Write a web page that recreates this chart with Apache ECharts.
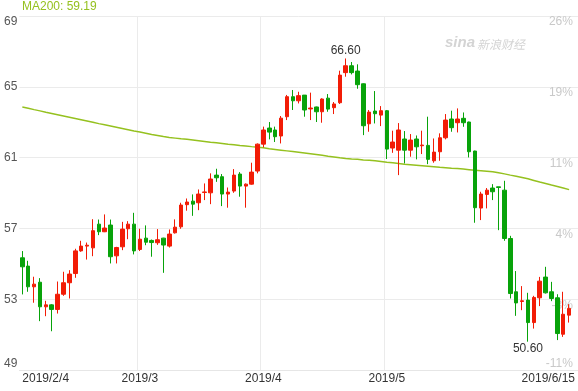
<!DOCTYPE html>
<html>
<head>
<meta charset="utf-8">
<script src="https://cdn.jsdelivr.net/npm/echarts@6/dist/echarts.min.js"></script>
<style>
  html, body { margin: 0; padding: 0; background: #fff; }
  #chart { width: 578px; height: 391px; }
</style>
</head>
<body>
<div id="chart"></div>
<script>
// trading days per month (the first one shown is 2019/1/31)
const tradingDays = [
  ['2019/1', [31]],
  ['2019/2', [1, 4, 5, 6, 7, 8, 11, 12, 13, 14, 15, 19, 20, 21, 22, 25, 26, 27, 28]],
  ['2019/3', [1, 4, 5, 6, 7, 8, 11, 12, 13, 14, 15, 18, 19, 20, 21, 22, 25, 26, 27, 28, 29]],
  ['2019/4', [1, 2, 3, 4, 5, 8, 9, 10, 11, 12, 15, 16, 17, 18, 22, 23, 24, 25, 26, 29, 30]],
  ['2019/5', [1, 2, 3, 6, 7, 8, 9, 10, 13, 14, 15, 16, 17, 20, 21, 22, 23, 24, 28, 29, 30, 31]],
  ['2019/6', [3, 4, 5, 6, 7, 10, 11, 12, 13, 14]],
]
const axisEnd = '2019/6/15'

const opens = [
  55.34, 54.87, 53.70, 53.96, 52.57, 52.68, 52.42, 53.28, 53.93, 54.45,
  55.73, 56.00, 55.90, 57.24, 56.81, 57.19, 55.45, 55.96, 56.98, 57.24,
  55.81, 56.45, 56.32, 56.19, 56.45, 56.00, 56.75, 57.09, 58.34, 58.54,
  58.45, 59.03, 59.01, 60.01, 59.92, 58.94, 59.11, 60.07, 59.39, 59.50,
  60.24, 61.76, 62.67, 62.56, 62.22, 63.31, 64.44, 64.21, 64.53, 63.75,
  63.86, 63.59, 64.36, 63.82, 64.10, 65.80, 66.19, 65.89, 65.17, 62.91,
  63.63, 63.40, 63.65, 61.54, 61.42, 62.05, 61.42, 62.05, 61.67, 61.69,
  60.82, 61.33, 62.12, 63.18, 62.97, 63.22, 63.01, 61.37, 58.15, 58.92,
  59.28, 59.35, 59.16, 56.43, 53.42, 52.87, 52.95, 51.68, 53.08, 54.25,
  53.42, 53.08, 51.02, 52.10,
]
const closes = [
  54.83, 53.70, 53.85, 52.57, 52.68, 52.42, 53.28, 53.93, 54.42, 55.73,
  56.00, 56.05, 56.87, 56.81, 57.02, 55.40, 55.92, 56.96, 57.24, 55.73,
  56.39, 56.22, 56.20, 56.36, 56.06, 56.68, 57.07, 58.32, 58.49, 58.37,
  58.94, 59.06, 59.79, 59.86, 58.94, 59.05, 60.01, 59.39, 59.50, 60.18,
  61.76, 62.56, 62.44, 62.18, 63.23, 64.44, 64.21, 64.50, 63.69, 63.80,
  63.59, 64.31, 63.74, 64.03, 65.66, 66.19, 65.80, 65.12, 62.80, 63.57,
  63.48, 63.65, 61.48, 61.88, 62.56, 61.42, 61.99, 61.61, 61.71, 60.90,
  61.31, 62.12, 63.12, 62.69, 63.18, 62.97, 61.33, 58.17, 58.94, 59.16,
  59.07, 59.31, 56.43, 53.32, 52.79, 52.91, 51.68, 53.10, 54.02, 53.36,
  53.04, 51.06, 52.15, 52.48,
]
const lows = [
  53.27, 53.42, 52.80, 51.76, 52.04, 51.19, 52.19, 53.19, 53.04, 54.21,
  55.68, 55.24, 55.43, 56.62, 56.79, 55.02, 55.02, 55.77, 56.39, 55.53,
  55.72, 56.05, 55.40, 56.07, 54.49, 55.92, 56.71, 56.98, 58.00, 57.71,
  58.03, 58.60, 58.37, 59.63, 58.26, 58.17, 59.01, 58.79, 58.17, 59.47,
  60.11, 61.58, 62.03, 61.88, 61.80, 63.12, 63.69, 64.06, 63.31, 63.12,
  63.01, 62.97, 63.59, 63.46, 64.03, 65.57, 65.70, 64.89, 62.27, 62.46,
  62.93, 62.78, 60.92, 61.27, 60.01, 60.67, 61.05, 60.90, 61.20, 60.63,
  60.71, 60.82, 62.03, 62.46, 62.42, 62.74, 61.01, 57.32, 57.47, 58.13,
  58.60, 56.90, 56.30, 53.04, 52.06, 52.38, 50.60, 51.34, 52.61, 53.32,
  52.89, 50.69, 50.87, 51.68,
]
const highs = [
  55.72, 55.17, 54.27, 54.19, 52.91, 52.72, 54.00, 54.55, 54.64, 55.85,
  56.30, 56.20, 57.52, 57.50, 57.79, 57.50, 55.96, 57.37, 57.41, 57.88,
  56.98, 57.17, 56.37, 56.96, 56.47, 56.94, 57.51, 58.45, 58.69, 58.92,
  59.20, 59.54, 60.11, 60.37, 60.07, 59.31, 60.35, 60.18, 59.54, 60.71,
  61.80, 62.75, 63.01, 62.75, 63.35, 64.54, 64.82, 64.72, 64.53, 64.67,
  63.88, 64.35, 64.59, 64.14, 65.91, 66.60, 66.40, 66.27, 65.19, 63.69,
  64.76, 63.91, 63.69, 62.52, 62.95, 62.50, 62.33, 62.25, 62.52, 63.31,
  62.08, 62.37, 63.46, 63.65, 63.78, 63.55, 63.03, 61.39, 59.07, 59.28,
  59.50, 59.35, 59.69, 56.58, 54.59, 53.74, 53.36, 53.19, 54.26, 54.83,
  53.98, 53.28, 53.42, 52.72,
]
const ma200 = [
  63.86, 63.79, 63.71, 63.64, 63.56, 63.49, 63.42, 63.35, 63.28, 63.21,
  63.14, 63.07, 63.00, 62.92, 62.85, 62.78, 62.71, 62.64, 62.57, 62.50,
  62.44, 62.38, 62.31, 62.25, 62.19, 62.14, 62.10, 62.06, 62.03, 61.99,
  61.95, 61.91, 61.87, 61.84, 61.80, 61.76, 61.73, 61.69, 61.66, 61.62,
  61.59, 61.55, 61.50, 61.46, 61.42, 61.38, 61.34, 61.30, 61.26, 61.22,
  61.18, 61.13, 61.08, 61.04, 60.99, 60.95, 60.92, 60.90, 60.87, 60.85,
  60.82, 60.78, 60.74, 60.71, 60.67, 60.63, 60.60, 60.57, 60.54, 60.51,
  60.48, 60.45, 60.43, 60.40, 60.38, 60.35, 60.32, 60.29, 60.26, 60.23,
  60.20, 60.14, 60.08, 60.01, 59.95, 59.88, 59.80, 59.71, 59.62, 59.54,
  59.45, 59.37, 59.28, 59.19,
]

const priceTicks = [49, 53, 57, 61, 65, 69]
const pctLabels = ['-11%', '-3%', '4%', '11%', '19%', '26%']
const xTickDates = ['2019/1/31', '2019/3/1', '2019/4/1', '2019/5/1', '2019/6/15']
const xTickLabels = ['2019/2/4', '2019/3', '2019/4', '2019/5', '2019/6/15']
const maTitle = 'MA200: 59.19'

const RED = '#f21c06'
const GREEN = '#08a30a'
const MA_COLOR = '#95c11f'
const FONT = '"Liberation Sans", Arial, sans-serif'

const dates = []
tradingDays.forEach(([m, days]) => days.forEach((d) => dates.push(m + '/' + d)))
const categories = dates.concat([axisEnd])
const candles = opens.map((o, i) => [o, closes[i], lows[i], highs[i]])
const monthStarts = xTickDates.slice(1, 4)

const chart = echarts.init(document.getElementById('chart'), null, { renderer: 'canvas' })
chart.setOption({
  animation: false,
  backgroundColor: '#fff',
  textStyle: { fontFamily: FONT },
  grid: { left: 19.4, right: 0, top: 16, bottom: 21 },
  xAxis: {
    type: 'category',
    data: categories,
    boundaryGap: true,
    axisLine: { lineStyle: { color: '#e6e6e6' } },
    axisTick: { show: false },
    splitLine: {
      show: true,
      interval: (i, v) => monthStarts.includes(v),
      lineStyle: { color: '#ebebeb' },
    },
    axisLabel: {
      interval: (i, v) => xTickDates.includes(v),
      formatter: (v) => xTickLabels[xTickDates.indexOf(v)],
      color: '#333',
      fontSize: 12,
      fontFamily: FONT,
      margin: 3,
      alignMinLabel: 'left',
      alignMaxLabel: 'right',
      showMinLabel: true,
      showMaxLabel: true,
    },
  },
  yAxis: [
    {
      type: 'value',
      min: priceTicks[0],
      max: priceTicks[priceTicks.length - 1],
      interval: 4,
      position: 'left',
      axisLine: { show: false },
      axisTick: { show: false },
      splitLine: { lineStyle: { color: '#ebebeb' } },
      axisLabel: {
        color: '#555',
        fontSize: 12,
        fontFamily: FONT,
        margin: 2,
        verticalAlignMinLabel: 'bottom',
        verticalAlignMaxLabel: 'top',
      },
    },
    {
      type: 'value',
      min: priceTicks[0],
      max: priceTicks[priceTicks.length - 1],
      interval: 4,
      position: 'right',
      axisLine: { show: false },
      axisTick: { show: false },
      splitLine: { show: false },
      axisLabel: {
        inside: true,
        color: '#c9c9c9',
        fontSize: 12,
        fontFamily: FONT,
        margin: 5,
        verticalAlign: 'top',
        verticalAlignMinLabel: 'bottom',
        formatter: (v) => pctLabels[priceTicks.indexOf(v)],
      },
    },
  ],
  graphic: [
    {
      type: 'text',
      left: 22,
      top: 1,
      style: { text: maTitle, fill: MA_COLOR, font: '12px ' + FONT },
    },
    {
      type: 'group',
      left: 445,
      top: 35,
      children: [
        {
          type: 'text',
          x: 0,
          y: 0,
          style: { text: 'sina', fill: '#d4d4d4', font: 'italic bold 15px ' + FONT },
        },
        {
          type: 'text',
          x: 32,
          y: 3,
          style: { text: '新浪财经', fill: '#d4d4d4', font: 'italic 12px "Noto Sans CJK SC", sans-serif' },
        },
      ],
    },
  ],
  series: [
    {
      name: 'K',
      type: 'candlestick',
      data: candles,
      barWidth: 4,
      itemStyle: {
        color: RED,
        color0: GREEN,
        borderColor: RED,
        borderColor0: GREEN,
        borderWidth: 1,
      },
      markPoint: {
        symbol: 'circle',
        symbolSize: 0,
        silent: true,
        data: [
          {
            type: 'max',
            valueDim: 'highest',
            label: { position: 'top', distance: 2 },
          },
          {
            type: 'min',
            valueDim: 'lowest',
            label: { position: 'bottom', distance: 1 },
          },
        ],
        label: {
          color: '#333',
          fontSize: 12,
          fontFamily: FONT,
          formatter: (p) => Number(p.value).toFixed(2),
        },
      },
    },
    {
      name: 'MA200',
      type: 'line',
      data: ma200,
      symbol: 'none',
      smooth: false,
      lineStyle: { color: MA_COLOR, width: 1.5 },
      z: 1,
    },
  ],
})
</script>
</body>
</html>
